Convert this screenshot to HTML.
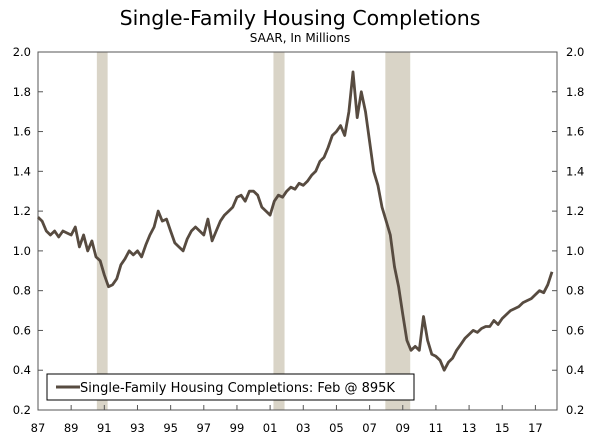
<!DOCTYPE html>
<html><head><meta charset="utf-8"><style>
body{margin:0;background:#fff;}
svg text{font-family:"DejaVu Sans","Liberation Sans",sans-serif;fill:#000;}
</style></head><body>
<svg id="c" width="600" height="438" xmlns="http://www.w3.org/2000/svg">
<text x="300" y="25" text-anchor="middle" font-size="20.5">Single-Family Housing Completions</text>
<text x="300" y="42" text-anchor="middle" font-size="12">SAAR, In Millions</text>
<g id="rec"></g>
<rect x="38" y="52" width="519" height="358" fill="none" stroke="#555" stroke-width="1"/>
<g id="ax"></g>
<path id="ln" fill="none" stroke="#574b40" stroke-width="2.8" stroke-linejoin="round"/>
<g>
<rect x="47" y="374" width="367" height="26" fill="#fff" stroke="#000" stroke-width="1"/>
<line x1="56" y1="387" x2="80" y2="387" stroke="#574b40" stroke-width="3"/>
<text x="80" y="392" font-size="13">Single-Family Housing Completions: Feb @ 895K</text>
</g>
</svg>
<script>
const startYear=1987;
const values=[1.17,1.15,1.10,1.08,1.10,1.07,1.10,1.09,1.08,1.12,1.02,1.08,1.00,1.05,0.97,0.95,0.88,0.82,0.83,0.86,0.93,0.96,1.00,0.98,1.00,0.97,1.03,1.08,1.12,1.20,1.15,1.16,1.10,1.04,1.02,1.00,1.06,1.10,1.12,1.10,1.08,1.16,1.05,1.10,1.15,1.18,1.20,1.22,1.27,1.28,1.25,1.30,1.30,1.28,1.22,1.20,1.18,1.25,1.28,1.27,1.30,1.32,1.31,1.34,1.33,1.35,1.38,1.40,1.45,1.47,1.52,1.58,1.60,1.63,1.58,1.70,1.90,1.67,1.80,1.70,1.55,1.40,1.33,1.22,1.15,1.08,0.92,0.82,0.68,0.55,0.50,0.52,0.50,0.67,0.55,0.48,0.47,0.45,0.40,0.44,0.46,0.50,0.53,0.56,0.58,0.60,0.59,0.61,0.62,0.62,0.65,0.63,0.66,0.68,0.70,0.71,0.72,0.74,0.75,0.76,0.78,0.80,0.79,0.83,0.895];
const recessions=[[1990.55,1991.2],[2001.2,2001.87],[2007.95,2009.45]];
const yTicks=[0.2,0.4,0.6,0.8,1.0,1.2,1.4,1.6,1.8,2.0];
const xLabels=["87","89","91","93","95","97","99","01","03","05","07","09","11","13","15","17"];
const X=t=>38+(t-1987)*16.58;
const Y=v=>410-(v-0.2)/1.8*358;
const NS="http://www.w3.org/2000/svg";
function mk(p,tag,a){const e=document.createElementNS(NS,tag);for(const k in a)e.setAttribute(k,a[k]);p.appendChild(e);return e;}
const rec=document.getElementById('rec'),ax=document.getElementById('ax');
recessions.forEach(r=>{const e=mk(rec,'rect',{x:X(r[0]),y:52,width:X(r[1])-X(r[0]),height:358,fill:'#d9d4c7'});

});
yTicks.forEach(v=>{const y=Y(v);
mk(ax,'line',{x1:38,x2:43,y1:y,y2:y,stroke:'#555'});mk(ax,'line',{x1:552,x2:557,y1:y,y2:y,stroke:'#555'});
const l=mk(ax,'text',{x:31,y:y+4,'text-anchor':'end','font-size':11.5});l.textContent=v.toFixed(1);


const r=mk(ax,'text',{x:566,y:y+4,'font-size':11.5});r.textContent=v.toFixed(1);

});
xLabels.forEach((s,i)=>{const x=X(1987+2*i);
mk(ax,'line',{x1:x,x2:x,y1:410,y2:405,stroke:'#555'});
const t=mk(ax,'text',{x:x,y:432,'text-anchor':'middle','font-size':11.5});t.textContent=s;

});
let d='';values.forEach((v,i)=>{d+=(i?'L':'M')+X(startYear+i/4).toFixed(1)+' '+Y(v).toFixed(1);});
document.getElementById('ln').setAttribute('d',d);
</script>
</body></html>
